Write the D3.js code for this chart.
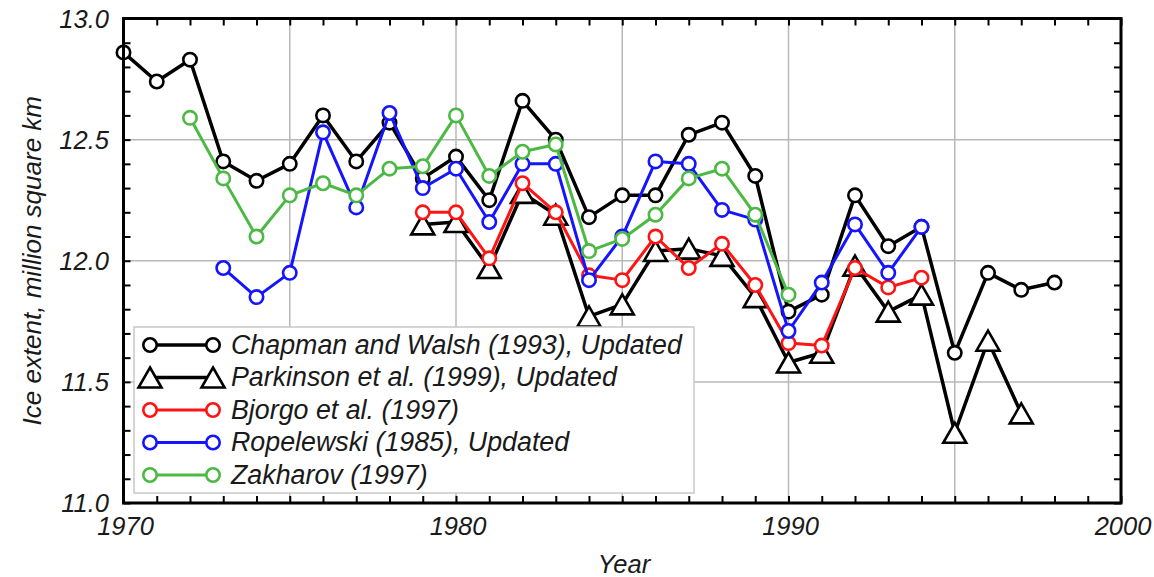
<!DOCTYPE html>
<html>
<head>
<meta charset="utf-8">
<script src="https://cdn.jsdelivr.net/npm/d3@7"></script>
<style>
  html, body { margin: 0; padding: 0; background: #fff; }
  svg { display: block; }
  text { font-family: "Liberation Sans", Arial, Helvetica, sans-serif; font-style: italic; fill: #1a1a1a; }
</style>
</head>
<body>
<svg id="chart" width="1154" height="577"></svg>
<script>
// ---- Data ----
const chapmanYears = d3.range(1970, 1999);
const chapman = [12.86,12.74,12.83,12.41,12.33,12.40,12.60,12.41,12.57,12.34,12.43,12.25,12.66,12.50,12.18,12.27,12.27,12.52,12.57,12.35,11.79,11.86,12.27,12.06,12.14,11.62,11.95,11.88,11.91];

const parkinsonYears = d3.range(1979, 1998);
const parkinson = [12.15,12.16,11.97,12.28,12.19,11.77,11.82,12.04,12.05,12.02,11.85,11.58,11.62,11.98,11.79,11.86,11.29,11.67,11.37];

const bjorgoYears = d3.range(1979, 1995);
const bjorgo = [12.20,12.20,12.01,12.32,12.20,11.94,11.92,12.10,11.97,12.07,11.90,11.66,11.65,11.97,11.89,11.93];

const ropelewskiYears = d3.range(1973, 1995);
const ropelewski = [11.97,11.85,11.95,12.53,12.22,12.61,12.30,12.38,12.16,12.40,12.40,11.92,12.10,12.41,12.40,12.21,12.17,11.71,11.91,12.15,11.95,12.14];

const zakharovYears = d3.range(1972, 1991);
const zakharov = [12.59,12.34,12.10,12.27,12.32,12.27,12.38,12.39,12.60,12.35,12.45,12.48,12.04,12.09,12.19,12.34,12.38,12.19,11.86];

const seriesNames = ["Chapman and Walsh (1993), Updated", "Parkinson et al. (1999), Updated", "Bjorgo et al. (1997)", "Ropelewski (1985), Updated", "Zakharov (1997)"];
const seriesColors = ["#000000", "#000000", "#ff1414", "#1414ff", "#4cb944"];
const seriesMarkers = ["circle", "triangle", "circle", "circle", "circle"];

const xTickLabels = [1970, 1980, 1990, 2000];
const yTickLabels = [11.0, 11.5, 12.0, 12.5, 13.0];
const xGrid = [1975, 1980, 1985, 1990, 1995];
const yGrid = [11.5, 12.0, 12.5];

// ---- Layout ----
const svg = d3.select("#chart");
const L = 123.5, R = 1121, T = 18.5, B = 503;
const x = d3.scaleLinear().domain([1970, 2000]).range([L, R]);
const y = d3.scaleLinear().domain([11, 13]).range([B, T]);

// grid
const g = svg.append("g");
g.selectAll(".vg").data(xGrid).join("line")
  .attr("x1", d => x(d)).attr("x2", d => x(d)).attr("y1", T).attr("y2", B)
  .attr("stroke", "#b8b8b8").attr("stroke-width", 1.5);
g.selectAll(".hg").data(yGrid).join("line")
  .attr("y1", d => y(d)).attr("y2", d => y(d)).attr("x1", L).attr("x2", R)
  .attr("stroke", "#b8b8b8").attr("stroke-width", 1.5);

// ticks (inward) on all four sides
const tickLen = 7;
const axB = svg.append("g").attr("transform", `translate(0,${B})`)
  .call(d3.axisTop(x).tickValues(d3.range(1970, 2001)).tickSize(tickLen).tickFormat(""));
const axT = svg.append("g").attr("transform", `translate(0,${T})`)
  .call(d3.axisBottom(x).tickValues(d3.range(1970, 2001)).tickSize(tickLen).tickFormat(""));
const axL = svg.append("g").attr("transform", `translate(${L},0)`)
  .call(d3.axisRight(y).tickValues(d3.range(0, 21).map(i => 11 + i * 0.1)).tickSize(tickLen).tickFormat(""));
const axR = svg.append("g").attr("transform", `translate(${R},0)`)
  .call(d3.axisLeft(y).tickValues(d3.range(0, 21).map(i => 11 + i * 0.1)).tickSize(tickLen).tickFormat(""));
[axB, axT, axL, axR].forEach(a => {
  a.select(".domain").remove();
  a.selectAll(".tick line").attr("stroke", "#000").attr("stroke-width", 2);
});

// tick labels
svg.selectAll(".xl").data(xTickLabels).join("text")
  .attr("x", d => x(d) + 2).attr("y", 535)
  .attr("text-anchor", "middle").attr("font-size", 25.5)
  .text(d => d);
svg.selectAll(".yl").data(yTickLabels).join("text")
  .attr("x", 109).attr("y", d => y(d) + 9)
  .attr("text-anchor", "end").attr("font-size", 25.5)
  .text(d => d.toFixed(1));

// axis titles
svg.append("text").attr("x", 624).attr("y", 573).attr("text-anchor", "middle")
  .attr("font-size", 25.5).text("Year");
svg.append("text").attr("transform", `translate(41,${(T + B) / 2}) rotate(-90)`)
  .attr("text-anchor", "middle").attr("font-size", 26)
  .text("Ice extent, million square km");

// series
const allSeries = [
  {years: chapmanYears, vals: chapman},
  {years: parkinsonYears, vals: parkinson},
  {years: bjorgoYears, vals: bjorgo},
  {years: ropelewskiYears, vals: ropelewski},
  {years: zakharovYears, vals: zakharov}
];
const line = d3.line().x(d => x(d[0])).y(d => y(d[1]));
const triPath = (w, h) => `M0,${-h/2}L${w/2},${h/2}L${-w/2},${h/2}Z`;

function drawMarker(sel, type, color) {
  if (type === "circle") {
    sel.append("circle").attr("r", 6.7).attr("fill", "#fff")
      .attr("stroke", color).attr("stroke-width", 2.6);
  } else {
    sel.append("path").attr("d", triPath(23, 20)).attr("fill", "#fff")
      .attr("stroke", color).attr("stroke-width", 2.6).attr("stroke-linejoin", "miter");
  }
}

const plot = svg.append("g");
allSeries.forEach((s, i) => {
  const pts = s.years.map((yr, k) => [yr, s.vals[k]]);
  const sg = plot.append("g");
  sg.append("path").attr("d", line(pts)).attr("fill", "none")
    .attr("stroke", seriesColors[i]).attr("stroke-width", i < 2 ? 3.5 : 3)
    .attr("stroke-linejoin", "round");
  sg.selectAll("g.m").data(pts).join("g")
    .attr("transform", d => `translate(${x(d[0])},${y(d[1])})`)
    .each(function() { drawMarker(d3.select(this), seriesMarkers[i], seriesColors[i]); });
});

// frame
svg.append("rect").attr("x", L).attr("y", T).attr("width", R - L).attr("height", B - T)
  .attr("fill", "none").attr("stroke", "#000").attr("stroke-width", 3);

// legend
const lg = svg.append("g");
lg.append("rect").attr("x", 134).attr("y", 327).attr("width", 560).attr("height", 166)
  .attr("fill", "#fff").attr("stroke", "#c8c8c8").attr("stroke-width", 1.5);
seriesNames.forEach((name, i) => {
  const ry = 345 + i * 32.5;
  const row = lg.append("g");
  row.append("line").attr("x1", 150).attr("x2", 213).attr("y1", ry).attr("y2", ry)
    .attr("stroke", seriesColors[i]).attr("stroke-width", i < 2 ? 3.5 : 3);
  [150, 213].forEach(cx => {
    const m = row.append("g").attr("transform", `translate(${cx},${ry})`);
    drawMarker(m, seriesMarkers[i], seriesColors[i]);
  });
  row.append("text").attr("x", 231).attr("y", ry + 8.5).attr("font-size", 26.8).text(name);
});
</script>
</body>
</html>
